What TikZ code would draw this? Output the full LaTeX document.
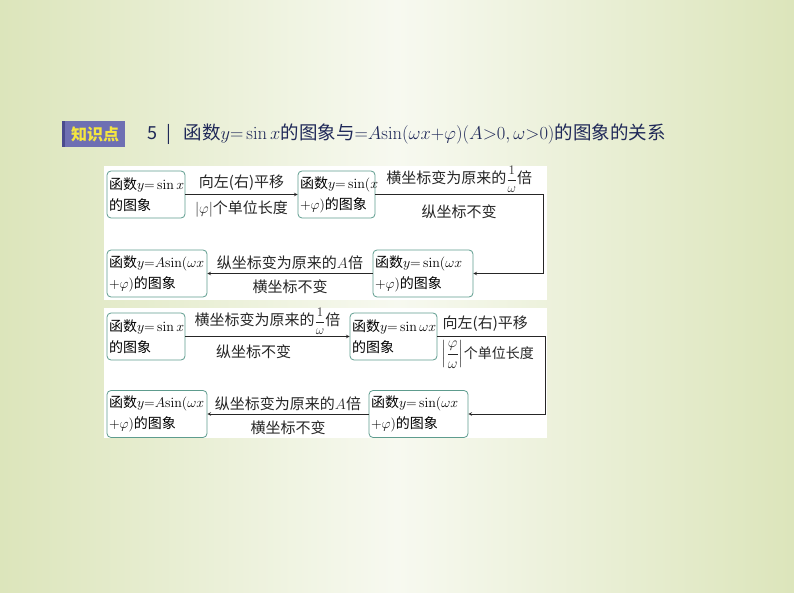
\documentclass[tikz,border=0pt]{standalone}
\usepackage{fix-cm}
\usepackage{amsmath}
\usepackage{amssymb}
\usepackage[no-math]{fontspec}
\setmainfont{Noto Sans CJK SC}
\usepackage{tikz}
\usetikzlibrary{positioning}

\definecolor{bgside}{HTML}{DCE5BB}
\definecolor{bgmid}{HTML}{F7F9F0}
\definecolor{boxc}{HTML}{5E9C8E}
\definecolor{badge}{HTML}{6E6FB3}
\definecolor{badgedark}{HTML}{4A4B8E}
\definecolor{badgetxt}{HTML}{F4E640}
\definecolor{titlec}{HTML}{1F2858}

\begin{document}
\begin{tikzpicture}[x=1pt,y=-1pt,>=stealth,
  box/.style={draw=boxc, line width=0.8pt, rounded corners=4pt, fill=white, align=left,
    inner sep=2pt, minimum height=47pt, font=\fontsize{14}{21}\selectfont},
  lab/.style={font=\fontsize{15}{17}\selectfont, inner sep=1pt},
  line/.style={line width=0.6pt, black!85}]
\useasboundingbox (0,0) rectangle (794,593);
\shade[left color=bgside, right color=bgside, middle color=bgmid] (0,0) rectangle (794,593);

% 标题
\fill[badge] (62,121) rectangle (125,147);
\fill[badgedark] (62,121) rectangle (65,147);
\node[text=badgetxt, font=\fontsize{16}{18}\selectfont\bfseries] (kp) at (95,134) {知识点};
\node[text=titlec, font=\fontsize{18}{20}\selectfont] (num) at (159,134) {5\hspace{9pt}|};
\node[anchor=west, text=titlec, font=\fontsize{18.5}{21}\selectfont] (tt) at (180,134)
  {函数$y{=}\sin x$的图象与${=}A\!\sin(\omega x{+}\varphi)(A{>}0,\omega{>}0)$的图象的关系};

\fill[white] (104,166) rectangle (547,300);
\fill[white] (104,308) rectangle (547,438);

% 第一种
\node[box, text width=74pt] (a1) at (146,194.5) {函数$y{=}\sin x$\\的图象};
\node[box, text width=73pt] (b1) at (336.5,194.5) {函数$y{=}\sin(x$\\${+}\varphi)$的图象};
\node[box, text width=96pt] (d1) at (423,273.5) {函数$y{=}\sin(\omega x$\\${+}\varphi)$的图象};
\node[box, text width=96pt] (c1) at (157,273.5) {函数$y{=}A\!\sin(\omega x$\\${+}\varphi)$的图象};
\coordinate (k1) at (543,194.5);

\draw[->,line] (a1) -- (b1)
  node[lab, midway, above=3pt] (t1) {向左(右)平移}
  node[lab, midway, below=5pt] (t2) {$|\varphi|$个单位长度};
\draw[->,line] (b1) -- (k1)
  node[lab, midway, above=1pt] (t3) {横坐标变为原来的{\fontsize{13}{13}\selectfont$\dfrac{1}{\omega}$}倍}
  node[lab, midway, below=9pt] (t4) {纵坐标不变} |- (d1);
\draw[->,line] (d1) -- (c1)
  node[lab, midway, above=2pt] (t5) {纵坐标变为原来的$A$倍}
  node[lab, midway, below=5pt] (t6) {横坐标不变};

% 第二种
\node[box, text width=74pt] (a2) at (146,336.5) {函数$y{=}\sin x$\\的图象};
\node[box, text width=83pt] (b2) at (393.5,336.5) {函数$y{=}\sin\omega x$\\的图象};
\node[box, text width=95pt] (d2) at (418.5,414) {函数$y{=}\sin(\omega x$\\${+}\varphi)$的图象};
\node[box, text width=96pt] (c2) at (157,414) {函数$y{=}A\!\sin(\omega x$\\${+}\varphi)$的图象};
\coordinate (k2) at (545,336.5);

\draw[->,line] (a2) -- (b2)
  node[lab, midway, above=1pt] (s1) {横坐标变为原来的{\fontsize{13}{13}\selectfont$\dfrac{1}{\omega}$}倍}
  node[lab, midway, below=7pt, xshift=-14pt] (s2) {纵坐标不变};
\draw[->,line] (b2) -- (k2)
  node[lab, pos=0, above right=4pt and 4pt] (s3) {向左(右)平移}
  node[lab, pos=0, below right=3pt and 3pt, font=\fontsize{14}{16}\selectfont] (s4)
    {{\fontsize{15}{15}\selectfont$\left|\dfrac{\varphi}{\omega}\right|$}个单位长度} |- (d2);
\draw[->,line] (d2) -- (c2)
  node[lab, midway, above=2pt] (s5) {纵坐标变为原来的$A$倍}
  node[lab, midway, below=5pt] (s6) {横坐标不变};
\end{tikzpicture}
\end{document}
